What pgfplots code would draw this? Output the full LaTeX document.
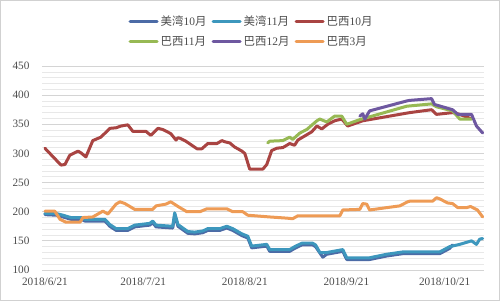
\documentclass[border=0pt]{standalone}
\usepackage{fontspec}
\setmainfont{Liberation Serif}
\newfontfamily\cjk{Noto Sans CJK SC}
\usepackage{pgfplots}
\usepackage{pgfplotstable}
\pgfplotsset{compat=1.18}
\definecolor{cMW10}{HTML}{4C6BA6}
\definecolor{cMW11}{HTML}{3D97BD}
\definecolor{cBX10}{HTML}{A94442}
\definecolor{cBX11}{HTML}{97B954}
\definecolor{cBX12}{HTML}{6E58A0}
\definecolor{cBX3}{HTML}{EE9B55}

% x = days since 2018/6/21
\pgfplotstableread{
d v
0 195
3.4 194
5.5 191
7.9 187
11.0 187
12.2 184
18.3 184
19.8 175
21.7 168
25.3 168
27.4 174
32.0 177
32.9 181
33.9 174
39.0 172
39.6 195
40.6 175
42.1 169
43.6 163
45.7 162
48.2 164
49.7 168
53.4 168
55.5 172
57.3 168
60.1 159
61.9 155
63.1 138
67.7 141
68.6 132
74.7 132
76.2 137
78.4 143
81.7 143
82.6 140
84.8 122
86.0 127
90.9 132
92.1 118
99.1 118
104.3 124
109.2 128
120.5 128
123.5 137
124.4 143
}\tMWten

\pgfplotstableread{
d v
0 197
3.4 197
5.5 194
7.9 190
11.0 190
12.2 187
18.3 187
19.8 178
21.7 171
25.3 171
27.4 177
32.0 180
32.9 184
33.9 177
39.0 175
39.6 198
40.6 178
42.1 172
43.6 166
45.7 165
48.2 167
49.7 171
53.4 171
55.5 175
57.3 171
60.1 162
61.9 158
63.1 141
67.7 144
68.6 135
74.7 135
76.2 140
78.4 146
81.7 146
82.6 143
83.9 130
86.0 130
90.9 135
92.1 121
99.1 121
104.3 127
109.2 131
120.5 131
123.5 140
126.6 144
130.2 150
131.7 144
132.7 153
133.6 154
}\tMWeleven

\pgfplotstableread{
d v
0 309
0.3 307
4.9 280
6.1 281
7.6 297
10.1 304
11.0 301
12.5 294
14.6 322
17.1 328
19.8 343
21.7 344
23.2 347
25.3 349
26.8 338
30.8 338
32.3 331
34.5 343
36.0 341
38.4 334
40.0 323
40.6 327
41.2 326
43.0 321
46.4 308
47.9 308
49.7 317
52.5 317
54.0 322
54.9 320
56.4 318
57.9 311
60.1 304
61.0 300
62.5 273
66.5 273
67.7 281
69.2 305
70.8 309
72.6 310
74.7 317
76.2 314
77.2 323
78.7 328
79.9 332
81.4 337
83.0 347
84.5 342
86.3 350
88.4 356
90.6 359
92.4 347
97.0 356
111.3 370
118.0 375
119.5 367
124.4 370
126.0 368
129.9 360
}\tBXten

\pgfplotstableread{
d v
68.0 318
68.6 321
72.6 322
74.7 328
75.6 324
77.8 335
79.9 341
83.0 356
83.9 359
86.0 354
88.4 364
90.6 364
92.1 350
96.1 358
110.4 381
118.0 385
119.5 380
124.4 373
126.6 359
130.2 359
}\tBXeleven

\pgfplotstableread{
d v
96.1 364
97.0 368
97.6 359
99.1 373
110.4 390
111.3 391
118.0 394
118.9 384
124.4 375
126.0 367
130.2 367
131.7 347
133.6 335
}\tBXtwelve

\pgfplotstableread{
d v
0 201
3.0 201
4.6 187
6.4 182
10.7 182
11.6 190
14.6 191
17.7 201
19.2 196
21.7 213
22.9 217
24.4 214
27.4 204
32.9 204
33.9 210
36.9 213
38.4 217
40.6 209
43.3 200
47.3 200
49.4 205
55.5 205
57.3 200
60.4 200
61.9 194
68.6 191
73.8 189
75.6 188
77.2 193
90.0 193
90.9 203
96.1 204
97.0 214
98.2 213
99.1 203
104.3 207
108.3 210
110.7 217
111.3 218
118.3 218
119.5 224
120.5 222
122.9 215
124.4 214
126.0 207
128.7 207
129.9 209
132.0 203
133.6 191
}\tBXthree

\begin{document}
\begin{tikzpicture}
\useasboundingbox (0,0) rectangle (500bp,301bp);
\draw[color=black!18, line width=1bp] (0.5bp,0.5bp) rectangle (499.5bp,300.5bp);
\begin{axis}[
  at={(42bp,31bp)}, anchor=south west,
  scale only axis, width=442bp, height=204bp,
  xmin=-0.9, xmax=134, ymin=100, ymax=450,
  ytick={100,150,...,450}, minor y tick num=4,
  ymajorgrids, yminorgrids,
  major grid style={draw=black!17, line width=0.8bp},
  minor grid style={draw=black!9, line width=0.6bp},
  xtick={0,30,61,92,122},
  xticklabels={2018/6/21,2018/7/21,2018/8/21,2018/9/21,2018/10/21},
  axis line style={draw=none},
  major tick length=0pt, minor tick length=0pt,
  tick label style={font=\fontsize{11.3}{13}\selectfont, text=black!70},
  /pgf/number format/assume math mode=true,
  yticklabel style={xshift=-9bp},
  xticklabel style={yshift=-4bp},
  legend columns=3,
  legend style={at={(0.474,1.17)}, anchor=center, draw=none, fill=none,
    font=\fontsize{11.5}{13}\selectfont, text=black!70, row sep=5bp,
    /tikz/every even column/.append style={column sep=3bp},
    /tikz/every odd column/.append style={column sep=0bp}},
  legend cell align=left,
  legend image code/.code={\draw[#1, line width=3.2bp, line cap=round] (0bp,0bp) -- (27bp,0bp);},
  every axis plot/.append style={line width=3bp, line join=round, line cap=round, mark=none},
]
\addplot[color=cMW10] table[x=d,y=v] {\tMWten};
\addlegendentry{{\cjk 美湾}10{\cjk 月}}
\addplot[color=cMW11] table[x=d,y=v] {\tMWeleven};
\addlegendentry{{\cjk 美湾}11{\cjk 月}}
\addplot[color=cBX10] table[x=d,y=v] {\tBXten};
\addlegendentry{{\cjk 巴西}10{\cjk 月}}
\addplot[color=cBX11] table[x=d,y=v] {\tBXeleven};
\addlegendentry{{\cjk 巴西}11{\cjk 月}}
\addplot[color=cBX12] table[x=d,y=v] {\tBXtwelve};
\addlegendentry{{\cjk 巴西}12{\cjk 月}}
\addplot[color=cBX3] table[x=d,y=v] {\tBXthree};
\addlegendentry{{\cjk 巴西}3{\cjk 月}}
\end{axis}
\end{tikzpicture}
\end{document}
